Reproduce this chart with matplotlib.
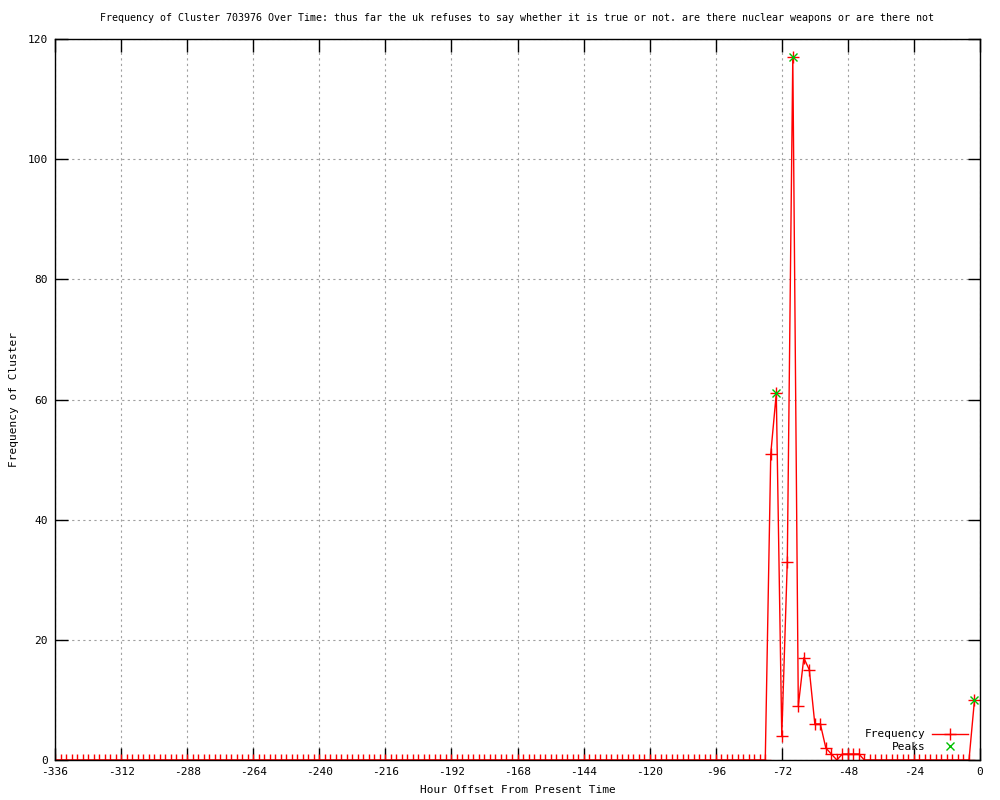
import numpy as np
import matplotlib
matplotlib.use("Agg")
import matplotlib.pyplot as plt

plt.rcParams['font.family'] = ['DejaVu Sans Mono']
plt.rcParams['axes.unicode_minus'] = False

# Hour offsets (every 2 hours from -336 to -2)
hours = list(range(-336, 0, 2))
# Frequency values
frequency = ([0] * 129 +
             [0, 51, 61, 4, 33, 117, 9, 17, 15, 6, 6, 2, 1, 0, 1, 1, 1, 1] +
             [0] * 20 +
             [10])
peak_hours = [-74, -68, -2]
peak_values = [61, 117, 10]

title = ("Frequency of Cluster 703976 Over Time: thus far the uk refuses to say "
         "whether it is true or not. are there nuclear weapons or are there not")
xticks = list(range(-336, 1, 24))
yticks = list(range(0, 121, 20))

fig = plt.figure(figsize=(10, 8), dpi=100)
ax = fig.add_axes([0.055, 0.05, 0.925, 0.90125])

ax.plot(hours, frequency, color='red', lw=1.0, marker='+', ms=8, mew=1.0,
        label='Frequency')
ax.plot(peak_hours, peak_values, color='#00c000', ls='none', marker='x', ms=6,
        mew=1.0, label='Peaks')

ax.set_xlim(-336, 0)
ax.set_ylim(0, 120)
ax.set_xticks(xticks)
ax.set_yticks(yticks)
ax.grid(True, color='#a0a0a0', ls=(0, (2, 3)), lw=0.8)
ax.tick_params(direction='in', length=9, width=1, top=True, right=True,
               labelsize=8, pad=5)
for s in ax.spines.values():
    s.set_linewidth(1.0)

ax.set_title(title, fontsize=7.2, pad=13)
ax.set_xlabel('Hour Offset From Present Time', fontsize=8, labelpad=6)
ax.set_ylabel('Frequency of Cluster', fontsize=8, labelpad=6)

ax.legend(loc='lower right', bbox_to_anchor=(0.995, 0.0), frameon=False,
          markerfirst=False, fontsize=8, handlelength=3.2, borderaxespad=0.3,
          labelspacing=0.25, handletextpad=0.6)

fig.savefig('out.png', dpi=100)
